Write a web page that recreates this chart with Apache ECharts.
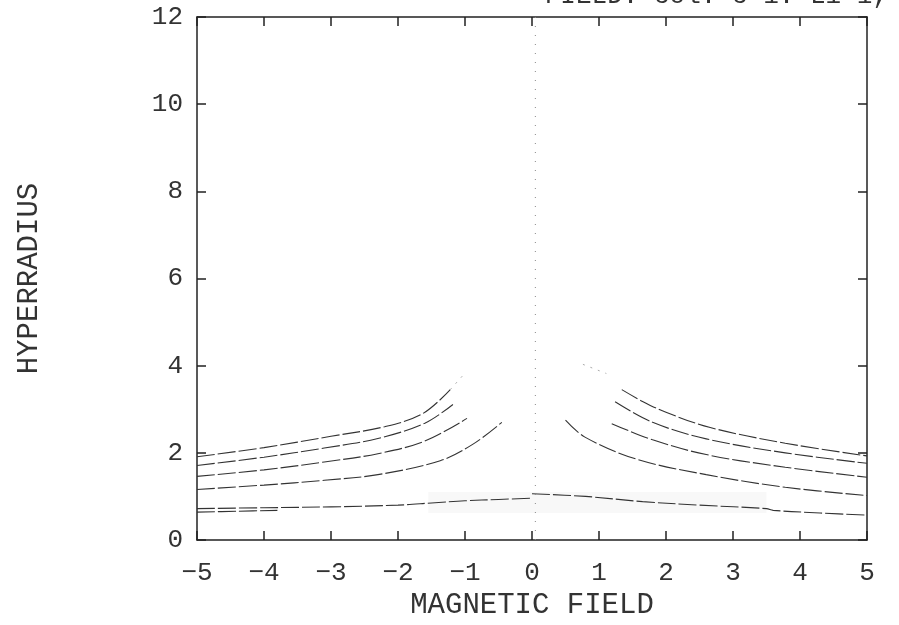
<!DOCTYPE html>
<html>
<head>
<meta charset="utf-8">
<script src="https://cdn.jsdelivr.net/npm/echarts@6/dist/echarts.min.js"></script>
<style>
html,body{margin:0;padding:0;background:#fff;}
#main{width:899px;height:625px;}
</style>
</head>
<body>
<div id="main"></div>
<script>
// values (x = magnetic field, y = hyperradius)
var xTicks=[-5,-4,-3,-2,-1,0,1,2,3,4,5];
var yTicks=[0,2,4,6,8,10,12];

var leftA=[[-5,1.91],[-4,2.12],[-3,2.38],[-2.2,2.6],[-1.63,2.9],[-1.22,3.45]];
var leftB=[[-5,1.71],[-4,1.9],[-3.1,2.11],[-2.3,2.33],[-1.6,2.68],[-1.18,3.11]];
var leftC=[[-5,1.46],[-4,1.61],[-3.1,1.79],[-2.3,1.98],[-1.6,2.27],[-0.97,2.79]];
var leftD=[[-5,1.16],[-4,1.26],[-3.1,1.37],[-2.3,1.5],[-1.37,1.82],[-0.88,2.2],[-0.45,2.7]];
var lowLeft=[[-5,0.72],[-4,0.74],[-3,0.76],[-2,0.8],[-1.5,0.85],[-1,0.9],[-0.5,0.93],[0,0.96]];
var lowLeft2=[[-5,0.64],[-4.4,0.66],[-3.8,0.68]];

var rightA=[[1.34,3.45],[1.65,3.18],[2,2.93],[2.66,2.58],[3.78,2.22],[5,1.93]];
var rightB=[[1.24,3.17],[1.8,2.7],[2.6,2.32],[3.78,2.0],[5,1.76]];
var rightC=[[1.19,2.67],[1.8,2.3],[2.6,1.96],[3.78,1.67],[5,1.44]];
var rightD=[[0.5,2.75],[0.79,2.36],[1.55,1.86],[2.6,1.5],[3.78,1.21],[5,1.02]];
var lowRight=[[0,1.06],[0.8,1],[1.65,0.88],[2.5,0.8],[3.5,0.72],[3.6,0.68],[4.3,0.62],[5,0.57]];

// faint dotted continuations towards zero field
var tailLeft=[[-1.22,3.45],[-1,3.83]];
var tailRight=[[0.76,4.03],[1.11,3.82]];
var zeroLine=[[0.05,0],[0.05,12]];

var curves=[leftA,leftB,leftC,leftD,lowLeft,lowLeft2,rightA,rightB,rightC,rightD,lowRight];

var font='"Liberation Mono","DejaVu Sans Mono",monospace';
function minus(v){ return String(v).replace('-','\u2212'); }

var series=[];
for(var i=0;i<curves.length;i++){
    series.push({
        type:'line',
        data:curves[i],
        smooth:0.35,
        showSymbol:false,
        silent:true,
        lineStyle:{color:'#333',width:1.1,type:[18,3]}
    });
}
series.push({type:'line',data:tailLeft,showSymbol:false,silent:true,lineStyle:{color:'#aaa',width:1,type:[2,6]}});
series.push({type:'line',data:tailRight,showSymbol:false,silent:true,lineStyle:{color:'#aaa',width:1,type:[2,6]}});
series.push({
    type:'line',data:zeroLine,showSymbol:false,silent:true,
    lineStyle:{color:'#888',width:1,type:[1,8]},
    markArea:{silent:true,itemStyle:{color:'rgba(0,0,0,0.028)'},data:[
        [{coord:[-1.55,0.62]},{coord:[3.5,1.1]}]
    ]}
});

var axisLineStyle={color:'#222',width:1.5};
var chartDom=document.getElementById('main');
var myChart=echarts.init(chartDom);
var option={
    animation:false,
    title:{
        text:'FIELD: col. c-1: Li 1,',
        right:6,
        top:-22,
        textStyle:{fontFamily:font,fontSize:26,fontWeight:'normal',color:'#333'}
    },
    grid:{left:197,right:32,top:17,bottom:78},
    xAxis:[{
        type:'value',min:-5,max:5,interval:1,
        name:'MAGNETIC FIELD',nameLocation:'middle',nameGap:51,
        nameTextStyle:{fontFamily:font,fontSize:29,color:'#333'},
        axisLine:{onZero:false,lineStyle:axisLineStyle},
        axisTick:{inside:true,length:9,lineStyle:axisLineStyle},
        axisLabel:{fontFamily:font,fontSize:26,color:'#333',margin:20,formatter:minus},
        splitLine:{show:false}
    },{
        type:'value',min:-5,max:5,interval:1,position:'top',
        axisLine:{onZero:false,lineStyle:axisLineStyle},
        axisTick:{inside:true,length:9,lineStyle:axisLineStyle},
        axisLabel:{show:false},
        splitLine:{show:false}
    }],
    yAxis:[{
        type:'value',min:0,max:12,interval:2,
        name:'HYPERRADIUS',nameLocation:'middle',nameGap:153,
        nameTextStyle:{fontFamily:font,fontSize:29,color:'#333'},
        axisLine:{show:true,onZero:false,lineStyle:axisLineStyle},
        axisTick:{show:true,inside:true,length:9,lineStyle:axisLineStyle},
        axisLabel:{fontFamily:font,fontSize:26,color:'#333',margin:14},
        splitLine:{show:false}
    },{
        type:'value',min:0,max:12,interval:2,position:'right',
        axisLine:{show:true,onZero:false,lineStyle:axisLineStyle},
        axisTick:{show:true,inside:true,length:9,lineStyle:axisLineStyle},
        axisLabel:{show:false},
        splitLine:{show:false}
    }],
    series:series
};
option && myChart.setOption(option);
</script>
</body>
</html>
